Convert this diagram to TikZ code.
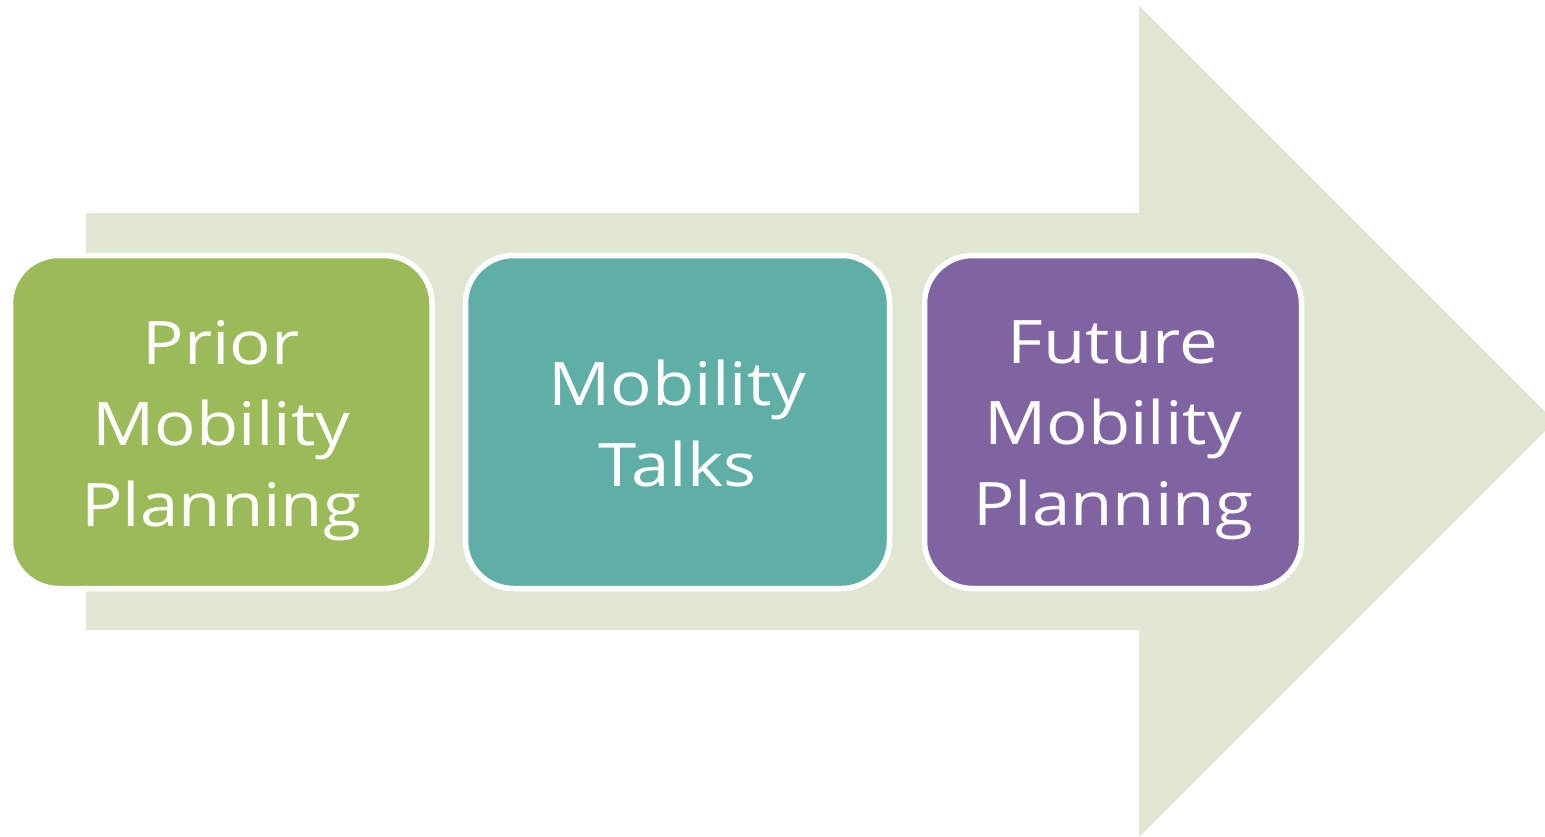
\documentclass[tikz,border=0pt]{standalone}
\usepackage{fontspec}
\setmainfont{Open Sans}[FakeStretch=1.15]
\definecolor{arrowbg}{HTML}{DFE7D2}
\definecolor{boxgreen}{HTML}{9BBB59}
\definecolor{boxteal}{HTML}{5FAFA6}
\definecolor{boxpurple}{HTML}{8064A2}
\tikzset{
  stagebox/.style={draw=white, line width=2.75pt, rounded corners=24pt,
    inner sep=0pt, minimum height=166.5pt},
  stagetext/.style={inner sep=0pt, align=center, text=white,
    font=\fontsize{30}{40.5}\selectfont},
}
\begin{document}
\begin{tikzpicture}[x=0.5pt,y=-0.5pt]
\useasboundingbox (0,0) rectangle (1545,836);
\begin{scope}
\clip (0,0) rectangle (1545,836);
\fill[arrowbg] (86,213) -- (1139,213) -- (1139,6) -- (1554.5,421.5)
  -- (1139,837) -- (1139,630) -- (86,630) -- cycle;
\end{scope}
\node[stagebox, fill=boxgreen, minimum width=210.75pt] (prior) at (221.25,422) {};
\node[stagebox, fill=boxteal, minimum width=212pt] (talks) at (677.5,422) {};
\node[stagebox, fill=boxpurple, minimum width=188.5pt] (future) at (1113,422) {};
\node[stagetext] (priortext) at ([yshift=-4.25pt]prior.center) {Prior\\Mobility\\Planning};
\node[stagetext] (talkstext) at ([yshift=-0.5pt]talks.center) {Mobility\\Talks};
\node[stagetext] (futuretext) at ([yshift=-4.25pt]future.center) {Future\\Mobility\\Planning};
\end{tikzpicture}
\end{document}
